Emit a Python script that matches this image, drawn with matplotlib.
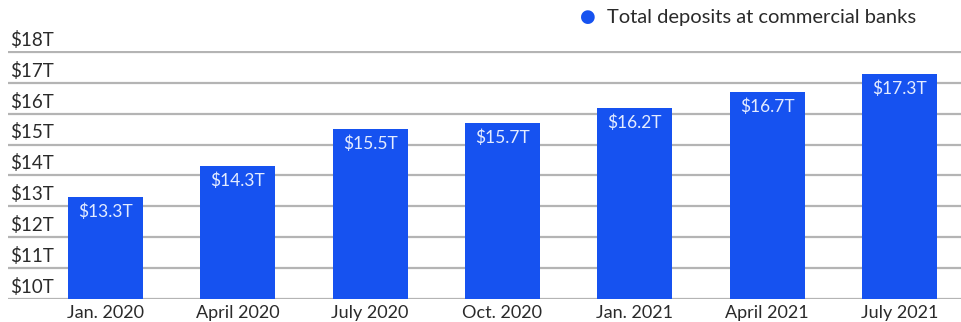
import matplotlib.pyplot as plt
import numpy as np

plt.rcParams['font.family'] = ['Lato', 'DejaVu Sans']

periods = ['Jan. 2020', 'April 2020', 'July 2020', 'Oct. 2020',
           'Jan. 2021', 'April 2021', 'July 2021']
deposits = [13.3, 14.3, 15.5, 15.7, 16.2, 16.7, 17.3]
y_ticks = [10, 11, 12, 13, 14, 15, 16, 17, 18]
series_name = 'Total deposits at commercial banks'

bar_color = '#1652f0'
grid_color = '#b4b4b4'
text_color = '#2a2a2a'

fig = plt.figure(figsize=(9.61, 3.22), dpi=100)
ax = fig.add_axes([8 / 961, 23 / 322, 953 / 961, 248 / 322])

x = np.arange(len(periods))
ax.bar(x, deposits, width=0.567, bottom=0, color=bar_color, zorder=3)

ax.set_xlim(-0.737, 6.465)
ax.set_ylim(10, 18.03)

# horizontal grid with the dollar labels sitting just above each line
for t in y_ticks:
    ax.axhline(t, color=grid_color, lw=1.6, zorder=1)
    ax.text(-0.72, t + 0.1, f'${t}T', ha='left', va='bottom',
            fontsize=13.5, color=text_color, zorder=2)

for xi, v in zip(x, deposits):
    ax.text(xi, v - 0.22, f'${v}T', ha='center', va='top',
            fontsize=12.5, color='#e4ecff', zorder=4)

ax.set_xticks(x)
ax.set_xticklabels(periods, fontsize=13, color=text_color)
ax.tick_params(axis='x', length=0, pad=4)
ax.set_yticks([])
for s in ax.spines.values():
    s.set_visible(False)

# legend entry in the top right
fig.text(588 / 961, 1 - 17 / 322, '\u25CF', color=bar_color, fontsize=13,
         ha='center', va='center', family='DejaVu Sans')
fig.text(607 / 961, 1 - 17 / 322, series_name, color=text_color,
         fontsize=14.5, ha='left', va='center')

fig.savefig('out.png', dpi=100)
